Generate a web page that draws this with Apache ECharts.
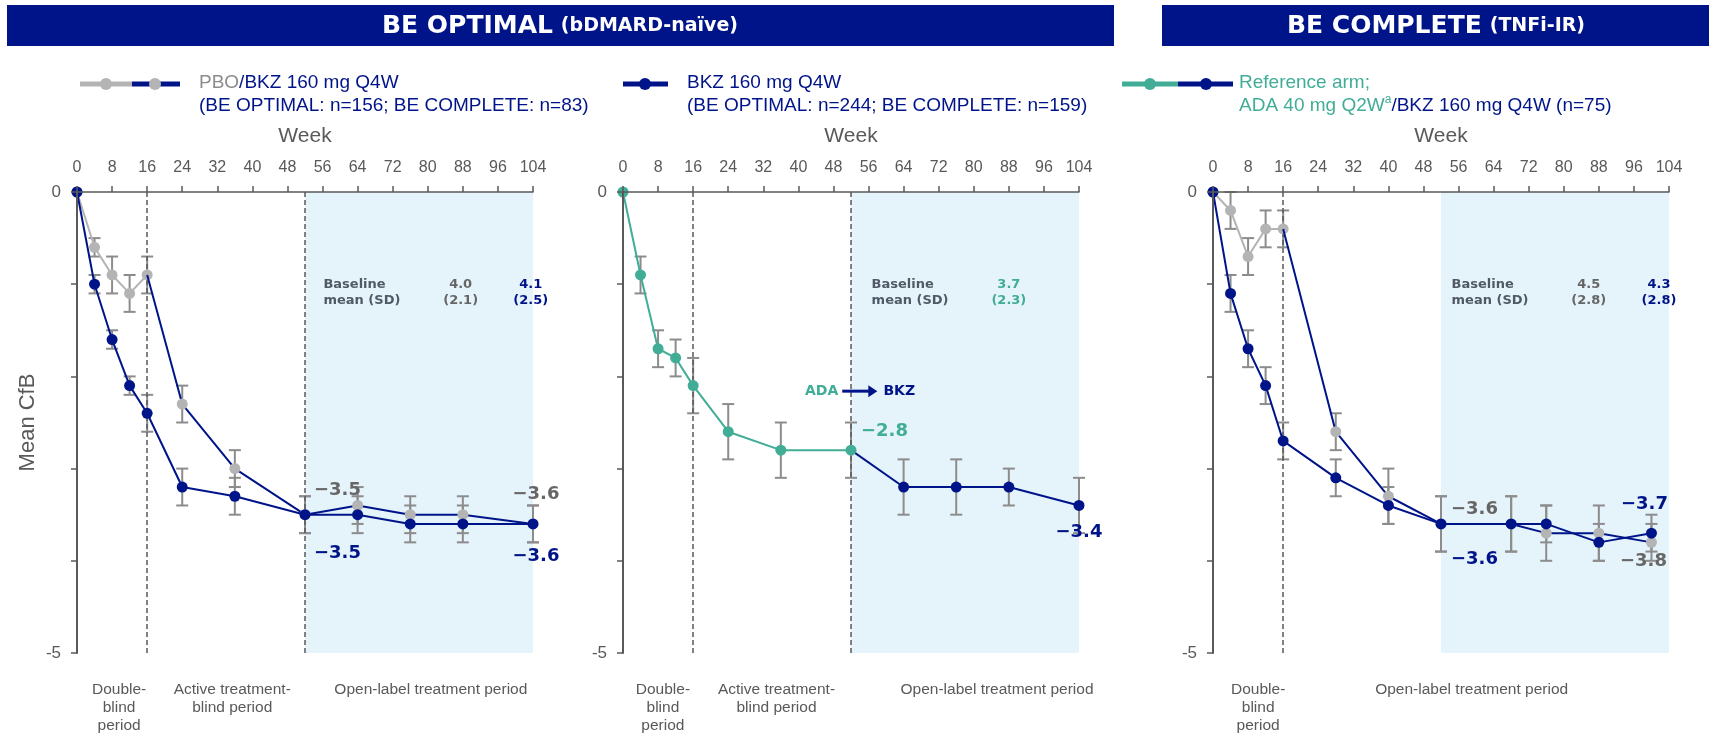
<!DOCTYPE html>
<html><head><meta charset="utf-8">
<script src="https://cdn.jsdelivr.net/npm/echarts@6/dist/echarts.min.js"></script>
<style>html,body{margin:0;padding:0;background:#fff}#c{width:1709px;height:733px}</style>
</head><body><div id="c"></div><script>
// ---------- DATA ----------
// BE OPTIMAL (bDMARD-naive)
const weeksOpt   = [0, 4, 8, 12, 16, 24, 36, 52, 64, 76, 88, 104];
const optBkz     = [0, -1.0, -1.6, -2.1, -2.4, -3.2, -3.3, -3.5, -3.5, -3.6, -3.6, -3.6];
const optBkzErr  = [0, 0.1, 0.1, 0.1, 0.2, 0.2, 0.2, 0.2, 0.2, 0.2, 0.2, 0.2];
const optPbo     = [0, -0.6, -0.9, -1.1, -0.9, -2.3, -3.0, -3.5, -3.4, -3.5, -3.5, -3.6];
const optPboErr  = [0, 0.1, 0.2, 0.2, 0.2, 0.2, 0.2, 0.2, 0.2, 0.2, 0.2, 0.2];
// Reference arm ADA -> BKZ (BE OPTIMAL)
const weeksRef   = [0, 4, 8, 12, 16, 24, 36, 52, 64, 76, 88, 104];
const refVals    = [0, -0.9, -1.7, -1.8, -2.1, -2.6, -2.8, -2.8, -3.2, -3.2, -3.2, -3.4];
const refErr     = [0, 0.2, 0.2, 0.2, 0.3, 0.3, 0.3, 0.3, 0.3, 0.3, 0.2, 0.3];
// BE COMPLETE (TNFi-IR)
const weeksComp  = [0, 4, 8, 12, 16, 28, 40, 52, 68, 76, 88, 100];
const compBkz    = [0, -1.1, -1.7, -2.1, -2.7, -3.1, -3.4, -3.6, -3.6, -3.6, -3.8, -3.7];
const compBkzErr = [0, 0.2, 0.2, 0.2, 0.2, 0.2, 0.2, 0.3, 0.3, 0.2, 0.2, 0.2];
const compPbo    = [0, -0.2, -0.7, -0.4, -0.4, -2.6, -3.3, -3.6, -3.6, -3.7, -3.7, -3.8];
const compPboErr = [0, 0.2, 0.2, 0.2, 0.2, 0.2, 0.3, 0.3, 0.3, 0.3, 0.3, 0.2];
// switch indices (blind -> open/BKZ)
const pboSwitchIdx = 4;   // week 16
const refSwitchIdx = 7;   // week 52
// axis ticks
const weekTicks = [0, 8, 16, 24, 32, 40, 48, 56, 64, 72, 80, 88, 96, 104];
const yLabelVals = [0, -5];
// baseline texts
const baseOpt  = ['4.0\n(2.1)', '4.1\n(2.5)'];
const baseRef  = ['3.7\n(2.3)'];
const baseComp = ['4.5\n(2.8)', '4.3\n(2.8)'];

// ---------- STYLE ----------
const NAVY = '#001489', GRAY = '#b4b4b4', TEAL = '#41ad96', ERR = '#8c8c8c';
const AX = '#595959', DKG = '#666666', BANNER = '#001489';
const SANS = 'Liberation Sans', BOLD = 'DejaVu Sans';

const chart = echarts.init(document.getElementById('c'), null, {renderer: 'canvas'});

const gridDefs = [
  {left: 77, top: 192, width: 456, height: 461},
  {left: 623, top: 192, width: 456, height: 461},
  {left: 1213, top: 192, width: 456, height: 461}
];

function xAxisDef(i) {
  return {
    gridIndex: i, type: 'value', position: 'top', min: weekTicks[0], max: weekTicks[weekTicks.length - 1],
    interval: weekTicks[1] - weekTicks[0], z: 10,
    name: 'Week', nameLocation: 'middle', nameGap: 45,
    nameTextStyle: {fontFamily: SANS, fontSize: 21, color: AX},
    axisLine: {show: true, lineStyle: {color: AX, width: 1.5}},
    axisTick: {show: true, length: 6, lineStyle: {color: AX, width: 1.5}},
    axisLabel: {fontFamily: SANS, fontSize: 16, color: AX, margin: 16},
    splitLine: {show: false}
  };
}
function yAxisDef(i) {
  const d = {
    gridIndex: i, type: 'value', min: -5, max: 0, interval: 1, z: 10,
    axisLine: {show: true, lineStyle: {color: AX, width: 2}},
    axisTick: {show: true, length: 6, lineStyle: {color: AX, width: 1.5}},
    axisLabel: {fontFamily: SANS, fontSize: 17, color: AX, margin: 16,
      formatter: v => yLabelVals.indexOf(v) >= 0 ? String(v) : ''},
    splitLine: {show: false}
  };
  if (i === 0) {
    d.name = 'Mean CfB'; d.nameLocation = 'middle'; d.nameGap = 38; d.nameRotate = 90;
    d.nameTextStyle = {fontFamily: SANS, fontSize: 22, color: AX};
  }
  return d;
}

function errSeries(i, weeks, vals, errs) {
  const data = [];
  weeks.forEach((w, k) => { if (errs[k] > 0) data.push([w, vals[k] - errs[k], vals[k] + errs[k]]); });
  return {
    type: 'custom', xAxisIndex: i, yAxisIndex: i, z: 3, silent: true, animation: false,
    data: data,
    renderItem: (params, api) => {
      const lo = api.coord([api.value(0), api.value(1)]);
      const hi = api.coord([api.value(0), api.value(2)]);
      const hw = 6, st = {stroke: ERR, lineWidth: 2};
      return {type: 'group', children: [
        {type: 'line', shape: {x1: lo[0], y1: lo[1], x2: hi[0], y2: hi[1]}, style: st},
        {type: 'line', shape: {x1: lo[0] - hw, y1: lo[1], x2: lo[0] + hw, y2: lo[1]}, style: st},
        {type: 'line', shape: {x1: hi[0] - hw, y1: hi[1], x2: hi[0] + hw, y2: hi[1]}, style: st}
      ]};
    }
  };
}
function lineSeries(i, weeks, vals, from, to, lineColor, markerColor, z, hideFirst) {
  const data = [];
  for (let k = from; k <= to; k++) {
    const item = {value: [weeks[k], vals[k]]};
    if (hideFirst && k === from) item.symbolSize = 0;
    data.push(item);
  }
  return {
    type: 'line', xAxisIndex: i, yAxisIndex: i, z: z, silent: true, animation: false,
    data: data, symbol: 'circle', symbolSize: 11, showSymbol: true,
    lineStyle: {color: lineColor, width: 2},
    itemStyle: {color: markerColor, borderWidth: 0}
  };
}
function shadeSeries(i, dashWeeks) {
  return [{
    type: 'line', xAxisIndex: i, yAxisIndex: i, z: 1, silent: true, animation: false,
    data: [], symbol: 'none',
    markArea: {silent: true, itemStyle: {color: '#e5f3fa'},
      data: [[{coord: [52, 0]}, {coord: [104, -5.05]}]]}
  }, {
    type: 'line', xAxisIndex: i, yAxisIndex: i, z: 2, silent: true, animation: false,
    data: [], symbol: 'none',
    markLine: {silent: true, symbol: ['none', 'none'], label: {show: false},
      lineStyle: {color: AX, type: [5, 3], width: 1.5},
      data: dashWeeks.map(w => ({xAxis: w}))}
  }];
}

const series = [];
// panel 1
series.push(...shadeSeries(0, [16, 52]));
series.push(errSeries(0, weeksOpt, optPbo, optPboErr));
series.push(errSeries(0, weeksOpt, optBkz, optBkzErr));
series.push(lineSeries(0, weeksOpt, optPbo, 0, pboSwitchIdx, GRAY, GRAY, 5, false));
series.push(lineSeries(0, weeksOpt, optPbo, pboSwitchIdx, weeksOpt.length - 1, NAVY, GRAY, 6, true));
series.push(lineSeries(0, weeksOpt, optBkz, 0, weeksOpt.length - 1, NAVY, NAVY, 7, false));
// panel 2
series.push(...shadeSeries(1, [16, 52]));
series.push(errSeries(1, weeksRef, refVals, refErr));
series.push(lineSeries(1, weeksRef, refVals, refSwitchIdx, weeksRef.length - 1, NAVY, NAVY, 5, true));
series.push(lineSeries(1, weeksRef, refVals, 0, refSwitchIdx, TEAL, TEAL, 6, false));
// panel 3
series.push(...shadeSeries(2, [16]));
series.push(errSeries(2, weeksComp, compPbo, compPboErr));
series.push(errSeries(2, weeksComp, compBkz, compBkzErr));
series.push(lineSeries(2, weeksComp, compPbo, 0, pboSwitchIdx, GRAY, GRAY, 5, false));
series.push(lineSeries(2, weeksComp, compPbo, pboSwitchIdx, weeksComp.length - 1, NAVY, GRAY, 6, true));
series.push(lineSeries(2, weeksComp, compBkz, 0, weeksComp.length - 1, NAVY, NAVY, 7, false));

chart.setOption({
  animation: false,
  backgroundColor: '#fff',
  grid: gridDefs.map(g => Object.assign({outerBoundsMode: 'none', containLabel: false}, g)),
  xAxis: [0, 1, 2].map(xAxisDef),
  yAxis: [0, 1, 2].map(yAxisDef),
  series: series
});

// ---------- ANNOTATIONS ----------
const fmt = v => (v < 0 ? '\u2212' : '') + Math.abs(v).toFixed(1);
const px = (g, x, y) => chart.convertToPixel({gridIndex: g}, [x, y]);
const G = [];

// banners
G.push({type: 'rect', shape: {x: 7, y: 5, width: 1107, height: 41}, style: {fill: BANNER}, z: 20});
G.push({type: 'rect', shape: {x: 1162, y: 5, width: 547, height: 41}, style: {fill: BANNER}, z: 20});
function bannerText(cx, a, b) {
  return {type: 'text', x: cx, y: 26, z: 21, style: {
    text: '{a|' + a + '}{s| }{b|' + b + '}', align: 'center', verticalAlign: 'middle',
    rich: {a: {fontFamily: BOLD, fontWeight: 'bold', fontSize: 25, fill: '#fff'},
           s: {fontFamily: BOLD, fontSize: 25, fill: '#fff'},
           b: {fontFamily: BOLD, fontWeight: 'bold', fontSize: 19, fill: '#fff'}}}};
}
G.push(bannerText(560, 'BE OPTIMAL', '(bDMARD-na\u00efve)'));
G.push(bannerText(1436, 'BE COMPLETE', '(TNFi-IR)'));

// legends
const LY = 84;
function seg(x1, x2, c) { return {type: 'line', z: 20, shape: {x1: x1, y1: LY, x2: x2, y2: LY}, style: {stroke: c, lineWidth: 5}}; }
function dot(x, c) { return {type: 'circle', z: 21, shape: {cx: x, cy: LY, r: 6}, style: {fill: c}}; }
G.push(seg(80, 132, GRAY), seg(132, 180, NAVY), dot(106, GRAY), dot(155, GRAY));
G.push(seg(623, 668, NAVY), dot(645, NAVY));
G.push(seg(1122, 1178, TEAL), seg(1178, 1233, NAVY), dot(1150, TEAL), dot(1206, NAVY));
function legText(x, y, parts) {
  let t = '';
  const rich = {};
  parts.forEach((p, k) => {
    t += '{p' + k + '|' + p[0] + '}';
    rich['p' + k] = Object.assign({fontFamily: SANS, fontSize: 19, fill: p[1], lineHeight: 24}, p[2] || {});
  });
  return {type: 'text', x: x, y: y, z: 21, style: {text: t, rich: rich, verticalAlign: 'middle', align: 'left'}};
}
G.push(legText(199, 83, [['PBO', '#8c8c8c'], ['/BKZ 160 mg Q4W', NAVY]]));
G.push(legText(199, 106, [['(BE OPTIMAL: n=156; BE COMPLETE: n=83)', NAVY]]));
G.push(legText(687, 83, [['BKZ 160 mg Q4W', NAVY]]));
G.push(legText(687, 106, [['(BE OPTIMAL: n=244; BE COMPLETE: n=159)', NAVY]]));
G.push(legText(1239, 83, [['Reference arm;', TEAL]]));
G.push(legText(1239, 106, [['ADA 40 mg Q2W', TEAL], ['a', TEAL, {fontSize: 12, verticalAlign: 'top', lineHeight: 24, padding: [0, 0, 10, 0]}], ['/BKZ 160 mg Q4W (n=75)', NAVY]]));

// value labels
function valLabel(g, weeks, vals, idx, color, dx, dy, align) {
  const p = px(g, weeks[idx], vals[idx]);
  return {type: 'text', x: p[0] + dx, y: p[1] + dy, z: 30, style: {
    text: fmt(vals[idx]), fontFamily: BOLD, fontWeight: 'bold', fontSize: 18, fill: color,
    align: align, verticalAlign: 'middle'}};
}
const L = weeksOpt.length - 1;
G.push(valLabel(0, weeksOpt, optPbo, 7, DKG, 9, -24, 'left'));
G.push(valLabel(0, weeksOpt, optBkz, 7, NAVY, 9, 39, 'left'));
G.push(valLabel(0, weeksOpt, optPbo, L, DKG, 3, -30, 'center'));
G.push(valLabel(0, weeksOpt, optBkz, L, NAVY, 3, 32, 'center'));
G.push(valLabel(1, weeksRef, refVals, refSwitchIdx, TEAL, 10, -19, 'left'));
G.push(valLabel(1, weeksRef, refVals, weeksRef.length - 1, NAVY, 0, 27, 'center'));
G.push(valLabel(2, weeksComp, compPbo, 7, DKG, 10, -15, 'left'));
G.push(valLabel(2, weeksComp, compBkz, 7, NAVY, 10, 35, 'left'));
G.push(valLabel(2, weeksComp, compBkz, weeksComp.length - 1, NAVY, -7, -29, 'center'));
G.push(valLabel(2, weeksComp, compPbo, weeksComp.length - 1, DKG, -8, 19, 'center'));

// baseline texts
function smallText(g, wx, wy, text, color, align) {
  const p = px(g, wx, wy);
  return {type: 'text', x: p[0], y: p[1], z: 30, style: {
    text: text, fontFamily: BOLD, fontWeight: 'bold', fontSize: 13, lineHeight: 16,
    fill: color, align: align, verticalAlign: 'top'}};
}
const BY = -0.92;
G.push(smallText(0, 56.2, BY, 'Baseline\nmean (SD)', '#4f5a66', 'left'));
G.push(smallText(0, 87.5, BY, baseOpt[0], DKG, 'center'));
G.push(smallText(0, 103.5, BY, baseOpt[1], NAVY, 'center'));
G.push(smallText(1, 56.7, BY, 'Baseline\nmean (SD)', '#4f5a66', 'left'));
G.push(smallText(1, 88, BY, baseRef[0], TEAL, 'center'));
G.push(smallText(2, 54.4, BY, 'Baseline\nmean (SD)', '#4f5a66', 'left'));
G.push(smallText(2, 85.7, BY, baseComp[0], DKG, 'center'));
G.push(smallText(2, 101.7, BY, baseComp[1], NAVY, 'center'));

// ADA -> BKZ
(function () {
  const a = px(1, 49.1, -2.16), b = px(1, 50, -2.16), c = px(1, 58, -2.16), d = px(1, 59.4, -2.16);
  G.push({type: 'text', x: a[0], y: a[1], z: 30, style: {text: 'ADA', fontFamily: BOLD, fontWeight: 'bold', fontSize: 14, fill: TEAL, align: 'right', verticalAlign: 'middle'}});
  G.push({type: 'line', z: 30, shape: {x1: b[0], y1: b[1], x2: c[0] - 8, y2: c[1]}, style: {stroke: NAVY, lineWidth: 3}});
  G.push({type: 'polygon', z: 30, shape: {points: [[c[0] - 9, c[1] - 6], [c[0], c[1]], [c[0] - 9, c[1] + 6]]}, style: {fill: NAVY}});
  G.push({type: 'text', x: d[0], y: d[1], z: 30, style: {text: 'BKZ', fontFamily: BOLD, fontWeight: 'bold', fontSize: 14, fill: NAVY, align: 'left', verticalAlign: 'middle'}});
})();

// period labels under each panel
const periodLabels = [
  [['Double-\nblind\nperiod', 9.6], ['Active treatment-\nblind period', 35.4], ['Open-label treatment period', 80.7]],
  [['Double-\nblind\nperiod', 9.1], ['Active treatment-\nblind period', 35.0], ['Open-label treatment period', 85.3]],
  [['Double-\nblind\nperiod', 10.3], ['Open-label treatment period', 59]]
];
periodLabels.forEach((arr, g) => arr.forEach(([t, w]) => {
  const p = px(g, w, -5);
  G.push({type: 'text', x: p[0], y: 681, z: 30, style: {text: t, fontFamily: SANS, fontSize: 15.5,
    lineHeight: 18, fill: AX, align: 'center', verticalAlign: 'top'}});
}));

chart.setOption({graphic: G});
</script></body></html>
